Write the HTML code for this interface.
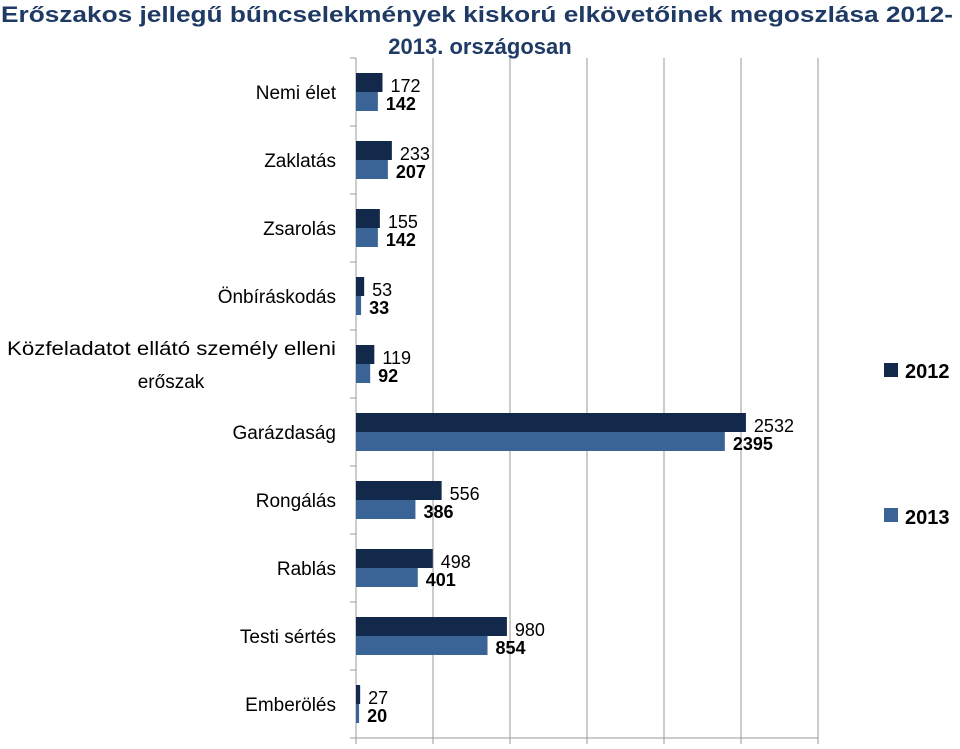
<!DOCTYPE html>
<html><head><meta charset="utf-8">
<style>
html,body{margin:0;padding:0;background:#fff;width:960px;height:749px;overflow:hidden}
svg{display:block}
</style></head>
<body>
<svg id="chart" width="960" height="749" xmlns="http://www.w3.org/2000/svg" font-family="'Liberation Sans', Arial, sans-serif">
<text x="1" y="22" font-size="22" font-weight="bold" fill="#1f3a64" textLength="952" lengthAdjust="spacingAndGlyphs">Erőszakos jellegű bűncselekmények  kiskorú elkövetőinek megoszlása 2012-</text>
<text x="480" y="54" font-size="22" font-weight="bold" fill="#1f3a64" text-anchor="middle">2013. országosan</text>
<g id="grid"></g>
<g id="bars"></g>
<g id="cats"></g>
<rect x="884" y="363" width="14" height="14" fill="#13294b"/>
<text x="905" y="378" font-size="20" font-weight="bold" fill="#000">2012</text>
<rect x="884" y="508" width="14" height="14" fill="#3a6396"/>
<text x="905" y="524" font-size="20" font-weight="bold" fill="#000">2013</text>
</svg>
<script>
const categories = ["Nemi élet","Zaklatás","Zsarolás","Önbíráskodás","Közfeladatot ellátó személy elleni|erőszak","Garázdaság","Rongálás","Rablás","Testi sértés","Emberölés"];
const values2012 = [172,233,155,53,119,2532,556,498,980,27];
const values2013 = [142,207,142,33,92,2395,386,401,854,20];
const xTicks = [0,500,1000,1500,2000,2500,3000];

const NS="http://www.w3.org/2000/svg";
const x0=356, xMax=3000, plotW=462, plotTop=58, rowH=68, plotBottom=plotTop+rowH*categories.length;
function xs(v){return x0+v/xMax*plotW;}
function ys(i){return plotTop+i*rowH;}
function mk(tag,attrs,parent){const e=document.createElementNS(NS,tag);for(const k in attrs)e.setAttribute(k,attrs[k]);parent.appendChild(e);return e;}
const grid=document.getElementById('grid'),bars=document.getElementById('bars'),cats=document.getElementById('cats');

xTicks.forEach(t=>{
  if(t>0){const g=mk('line',{x1:xs(t),x2:xs(t),y1:plotTop,y2:plotBottom,stroke:'#9a9a9a','stroke-width':1},grid);
  
  }
  const tk=mk('line',{x1:xs(t),x2:xs(t),y1:plotBottom,y2:plotBottom+6,stroke:'#9a9a9a','stroke-width':1},grid);
  
  
});
const xa=mk('line',{x1:x0-6,x2:xs(xMax),y1:plotBottom,y2:plotBottom,stroke:'#9a9a9a','stroke-width':1},grid);


const ya=mk('line',{x1:x0,x2:x0,y1:plotTop,y2:plotBottom,stroke:'#9a9a9a','stroke-width':1},grid);


for(let i=0;i<=categories.length;i++){
  const tk=mk('line',{x1:x0-6,x2:x0,y1:ys(i),y2:ys(i),stroke:'#9a9a9a','stroke-width':1},grid);
  
  
}

categories.forEach((c,i)=>{
  const t=ys(i);
  const b1=mk('rect',{x:x0,y:t+15,width:xs(values2012[i])-x0,height:19,fill:'#13294b'},bars);
  
  
  const b2=mk('rect',{x:x0,y:t+34,width:xs(values2013[i])-x0,height:19,fill:'#3a6396'},bars);
  
  
  const l1=mk('text',{x:xs(values2012[i])+8,y:t+34,'font-size':18,fill:'#000'},bars);
  l1.textContent=values2012[i];
  
  
  const l2=mk('text',{x:xs(values2013[i])+8,y:t+52,'font-size':18,'font-weight':'bold',fill:'#000'},bars);
  l2.textContent=values2013[i];
  
  
  const parts=c.split('|');
  if(parts.length===1){
    const ct=mk('text',{x:336,y:t+41,'font-size':19,fill:'#000','text-anchor':'end'},cats);
    ct.textContent=parts[0];
    
    
  }else{
    const ct=mk('text',{x:336,y:t+25,'font-size':19,fill:'#000','text-anchor':'end',textLength:329,lengthAdjust:'spacingAndGlyphs'},cats);
    ct.textContent=parts[0];
    
    
    const ct2=mk('text',{x:171,y:t+58,'font-size':19,fill:'#000','text-anchor':'middle'},cats);
    ct2.textContent=parts[1];
    
    
  }
});
</script>
</body></html>
